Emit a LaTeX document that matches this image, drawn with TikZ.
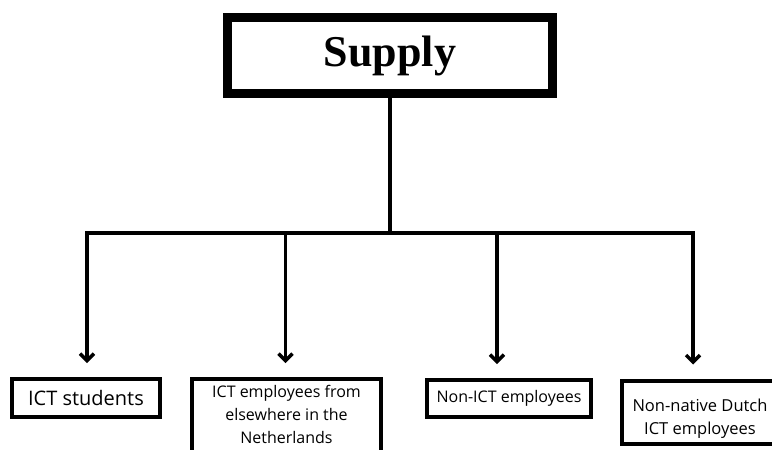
\documentclass[tikz,border=0pt]{standalone}
\usepackage{fontspec}
\setmainfont{Open Sans}
\newfontfamily\headfont{Liberation Serif}
\usetikzlibrary{arrows.meta}
\tikzset{
  leafbox/.style={draw, line width=4pt, inner sep=0pt, align=center},
  feed/.style={line width=3.5pt, -{Straight Barb[length=7pt,width=14pt,line width=3.5pt]}, shorten >=14pt},
}

\begin{document}
\begin{tikzpicture}[x=1pt, y=-1pt]
    \useasboundingbox (0,0) rectangle (772,450);
    \clip (0,0) rectangle (772,450);
    \node[draw, line width=9pt, minimum width=325pt, minimum height=76pt, font=\headfont\bfseries\fontsize{44}{48}\selectfont] at (390,55.5) (supply) {Supply};
    \node[leafbox, minimum width=148pt, minimum height=38pt, font=\fontsize{20}{24}\selectfont] at (86,398) (students) {ICT students};
    \node[leafbox, minimum width=189pt, minimum height=76pt, font=\fontsize{16}{23}\selectfont] at (286.5,417) (elsewhere) {ICT employees from\\ elsewhere in the\\ Netherlands\rule[-6pt]{0pt}{6pt}};
    \node[leafbox, minimum width=164pt, minimum height=37pt, font=\fontsize{16}{23}\selectfont] at (509,398.5) (nonict) {Non-ICT employees};
    \node[leafbox, minimum width=156pt, minimum height=63pt, font=\fontsize{16.5}{23}\selectfont] at (700,412) (nonnative) {\rule{0pt}{26pt}Non-native Dutch\\ ICT employees};
    \coordinate (b1) at (87,233);
    \coordinate (b2) at (285.5,233);
    \coordinate (b3) at (497,233);
    \coordinate (b4) at (693,233);
    \draw [line width=3.5pt] (supply.south) -- (supply.south |- b1);
    \draw [line width=3.5pt, line cap=rect] (b1) -- (b4);
    \draw [feed] (b1) -- (b1 |- students.north);
    \draw [feed] (b2) -- (b2 |- elsewhere.north);
    \draw [feed] (b3) -- (b3 |- nonict.north);
    \draw [feed] (b4) -- (b4 |- nonnative.north);
  \end{tikzpicture}
\end{document}
